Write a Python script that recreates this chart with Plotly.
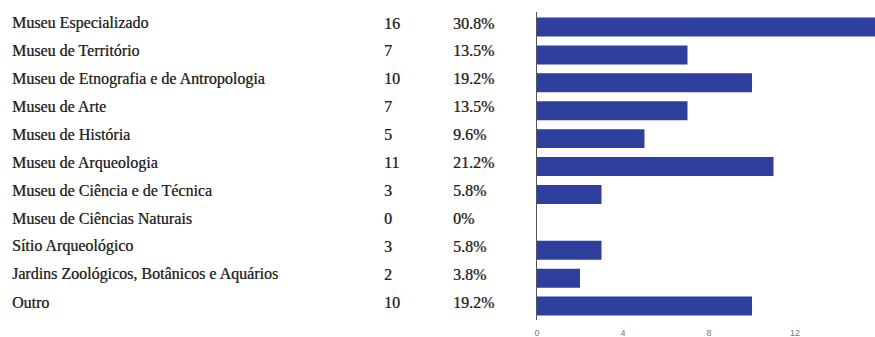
import plotly.graph_objects as go

categories = [
    "Museu Especializado",
    "Museu de Território",
    "Museu de Etnografia e de Antropologia",
    "Museu de Arte",
    "Museu de História",
    "Museu de Arqueologia",
    "Museu de Ciência e de Técnica",
    "Museu de Ciências Naturais",
    "Sítio Arqueológico",
    "Jardins Zoológicos, Botânicos e Aquários",
    "Outro",
]
counts = [16, 7, 10, 7, 5, 11, 3, 0, 3, 2, 10]
percents = ["30.8%", "13.5%", "19.2%", "13.5%", "9.6%", "21.2%", "5.8%", "0%", "5.8%", "3.8%", "19.2%"]
tick_values = [0, 4, 8, 12]

BAR_COLOR = "#2f3f9d"
TEXT_COLOR = "#222222"
SERIF = "Liberation Serif"

fig = go.Figure()
fig.add_trace(go.Bar(
    x=counts,
    y=categories,
    orientation="h",
    marker=dict(color=BAR_COLOR, line=dict(width=0)),
    hoverinfo="skip",
))

# Table-like text columns to the left of the bars
for cat, n, pct in zip(categories, counts, percents):
    for xpos, txt in ((-537 + 10, cat), (-537 + 382, str(n)), (-537 + 451, pct)):
        fig.add_annotation(
            x=0, y=cat, xref="x", yref="y",
            text=txt, showarrow=False,
            xanchor="left", yanchor="middle",
            xshift=xpos, yshift=4,
            font=dict(family=SERIF, size=16, color=TEXT_COLOR,
                      shadow="0.4px 0 0.6px rgba(34,34,34,0.6)"),
        )

fig.update_layout(
    width=875, height=337,
    margin=dict(l=537, r=0, t=12, b=17),
    paper_bgcolor="white", plot_bgcolor="white",
    showlegend=False,
    bargap=0.32,
    xaxis=dict(
        range=[0, 15.72],
        tickvals=tick_values,
        ticks="",
        showgrid=False,
        zeroline=False,
        showline=False,
        tickfont=dict(family="Arial, Liberation Sans, sans-serif", size=9, color="#777777"),
        ticklabelstandoff=6,
        fixedrange=True,
    ),
    yaxis=dict(
        categoryorder="array",
        categoryarray=categories[::-1],
        showticklabels=False,
        ticks="",
        showgrid=False,
        zeroline=False,
        showline=True,
        linecolor="#555555",
        linewidth=1,
        fixedrange=True,
    ),
)

fig.write_html("out.html")
